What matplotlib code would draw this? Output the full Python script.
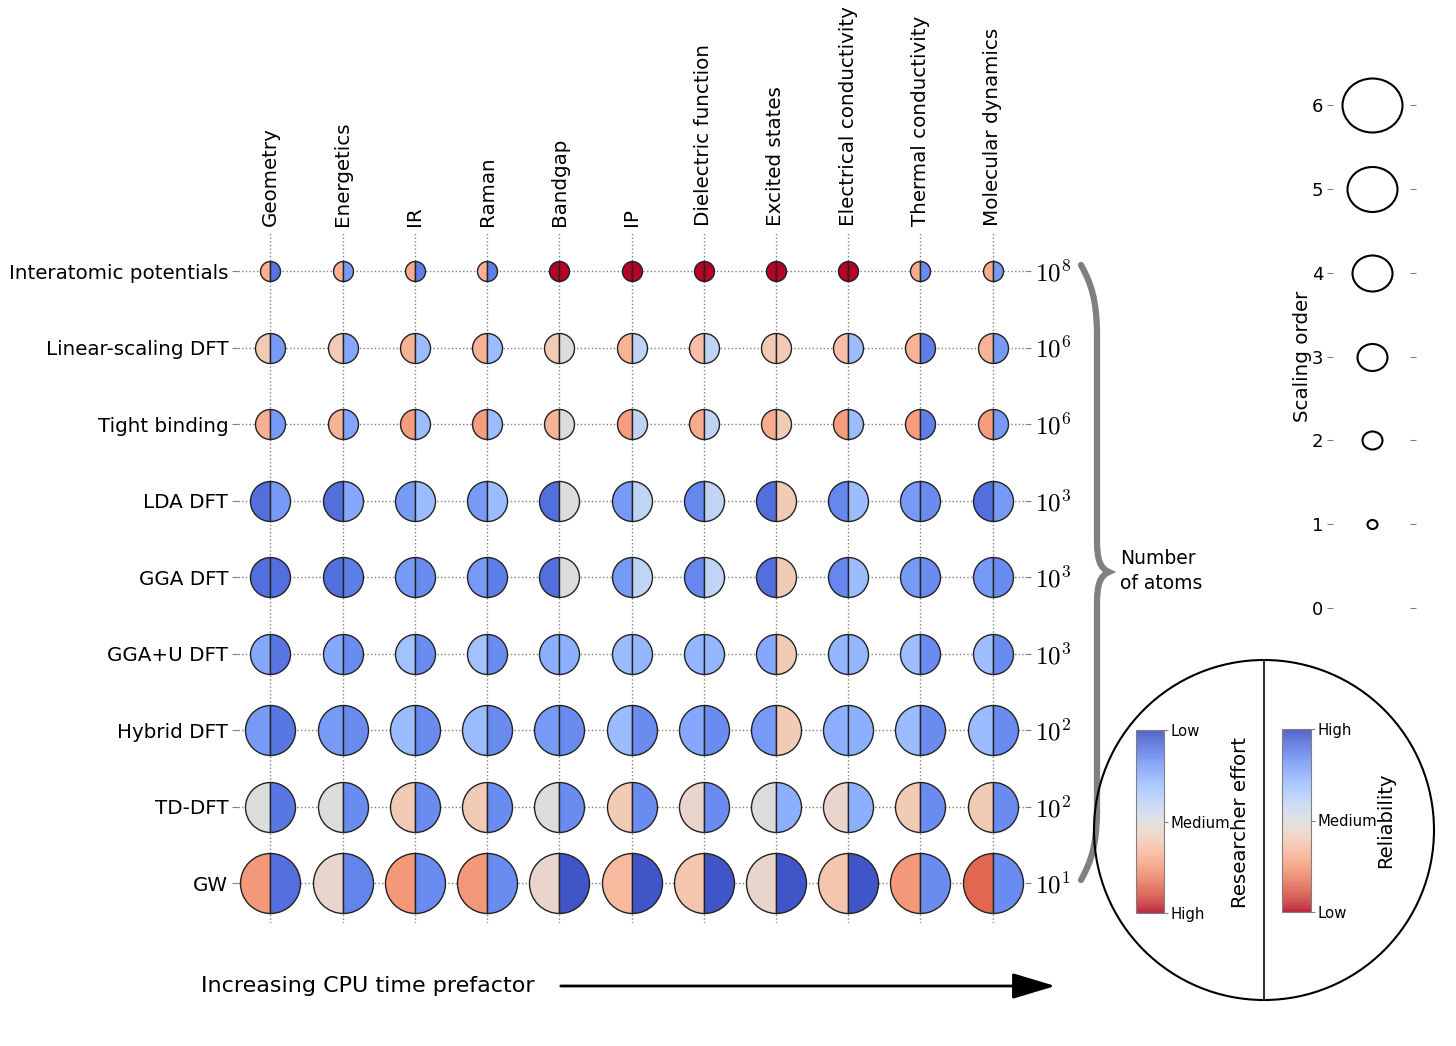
import matplotlib
matplotlib.use("Agg")
import matplotlib.pyplot as plt
from matplotlib.patches import Circle, PathPatch
from matplotlib.path import Path
from matplotlib.cm import ScalarMappable
from matplotlib.colors import Normalize
import numpy as np

plt.rcParams['mathtext.fontset'] = 'cm'

# --- data ---
methods = ['Interatomic potentials', 'Linear-scaling DFT', 'Tight binding', 'LDA DFT',
           'GGA DFT', 'GGA+U DFT', 'Hybrid DFT', 'TD-DFT', 'GW']
atoms = ['$10^8$', '$10^6$', '$10^6$', '$10^3$', '$10^3$', '$10^3$', '$10^2$', '$10^2$', '$10^1$']
properties = ['Geometry', 'Energetics', 'IR', 'Raman', 'Bandgap', 'IP', 'Dielectric function',
              'Excited states', 'Electrical conductivity', 'Thermal conductivity', 'Molecular dynamics']
scaling = [2, 3, 3, 4, 4, 4, 5, 5, 6]

# researcher effort, 0 = low, 1 = high
effort = [
    [0.69, 0.69, 0.70, 0.69, 1.00, 1.00, 1.00, 1.00, 1.00, 0.70, 0.70],
    [0.60, 0.60, 0.68, 0.68, 0.60, 0.68, 0.64, 0.60, 0.64, 0.68, 0.68],
    [0.69, 0.68, 0.74, 0.74, 0.68, 0.74, 0.70, 0.70, 0.74, 0.74, 0.74],
    [0.08, 0.08, 0.19, 0.19, 0.08, 0.19, 0.14, 0.08, 0.14, 0.19, 0.08],
    [0.08, 0.08, 0.19, 0.19, 0.08, 0.19, 0.14, 0.08, 0.14, 0.19, 0.19],
    [0.23, 0.23, 0.31, 0.31, 0.25, 0.29, 0.27, 0.23, 0.27, 0.30, 0.30],
    [0.19, 0.19, 0.29, 0.29, 0.19, 0.29, 0.23, 0.19, 0.25, 0.29, 0.29],
    [0.50, 0.50, 0.60, 0.60, 0.50, 0.60, 0.55, 0.50, 0.55, 0.60, 0.60],
    [0.75, 0.55, 0.75, 0.75, 0.55, 0.66, 0.62, 0.55, 0.62, 0.75, 0.86],
]
# reliability, 0 = low, 1 = high
reliability = [
    [0.91, 0.81, 0.88, 0.88, 0.00, 0.00, 0.00, 0.00, 0.00, 0.85, 0.81],
    [0.81, 0.77, 0.71, 0.71, 0.50, 0.60, 0.60, 0.40, 0.71, 0.88, 0.81],
    [0.81, 0.78, 0.71, 0.71, 0.50, 0.60, 0.60, 0.40, 0.71, 0.88, 0.81],
    [0.81, 0.77, 0.71, 0.71, 0.50, 0.60, 0.60, 0.40, 0.71, 0.85, 0.81],
    [0.92, 0.88, 0.85, 0.88, 0.50, 0.60, 0.60, 0.40, 0.71, 0.85, 0.85],
    [0.90, 0.85, 0.85, 0.85, 0.75, 0.73, 0.73, 0.40, 0.73, 0.85, 0.85],
    [0.90, 0.85, 0.85, 0.85, 0.85, 0.85, 0.85, 0.40, 0.75, 0.85, 0.85],
    [0.90, 0.85, 0.85, 0.85, 0.85, 0.85, 0.85, 0.75, 0.75, 0.85, 0.85],
    [0.92, 0.87, 0.85, 0.85, 0.98, 0.98, 0.98, 0.98, 0.98, 0.85, 0.85],
]
legend_orders = [0, 1, 2, 3, 4, 5, 6]

cmap = plt.get_cmap('coolwarm')
W, H = 1456, 1046
fig = plt.figure(figsize=(W / 100, H / 100), dpi=100)

# overlay in pixel coords for the brace / arrow / legend circle
over = fig.add_axes([0, 0, 1, 1])
over.set_xlim(0, W)
over.set_ylim(H, 0)
over.axis('off')

def msize(order):
    # marker diameter in points (10 px per scaling order)
    return 7.2 * order

# --- main grid ---
ax = fig.add_axes([238 / W, 1 - 923 / H, (1025 - 238) / W, (923 - 232) / H])
for i, m in enumerate(methods):
    for j, p in enumerate(properties):
        ax.plot(j, i, marker='o', linestyle='none', fillstyle='left',
                markerfacecolor=cmap(effort[i][j]),
                markerfacecoloralt=cmap(1 - reliability[i][j]),
                markeredgecolor='#222222', markeredgewidth=1.0,
                markersize=msize(scaling[i]), zorder=3)

ax.set_xlim(-0.45, len(properties) - 0.55)
ax.set_ylim(len(methods) - 0.48, -0.51)
ax.set_xticks(range(len(properties)))
ax.set_xticklabels(properties, rotation=90, fontsize=14.3)
ax.xaxis.tick_top()
ax.tick_params(axis='x', length=0, pad=4)
ax.set_yticks(range(len(methods)))
ax.set_yticklabels(methods, fontsize=14.3)
ax.tick_params(axis='y', length=4, color='gray', pad=3)
ax.grid(True, linestyle=':', color='gray', linewidth=1)
ax.set_axisbelow(True)
for s in ax.spines.values():
    s.set_visible(False)

ax2 = ax.twinx()
ax2.set_ylim(ax.get_ylim())
ax2.set_yticks(range(len(methods)))
ax2.set_yticklabels(atoms, fontsize=18)
ax2.tick_params(axis='y', length=4, color='gray', pad=3)
for s in ax2.spines.values():
    s.set_visible(False)

# brace + "Number of atoms"
verts = [(1081, 265), (1092, 285), (1096, 300), (1097, 330),
         (1097, 540),
         (1097, 560), (1100, 568), (1109, 572),
         (1100, 576), (1097, 584), (1097, 604),
         (1097, 815),
         (1096, 845), (1092, 860), (1081, 880)]
codes = [Path.MOVETO, Path.CURVE4, Path.CURVE4, Path.CURVE4,
         Path.LINETO,
         Path.CURVE4, Path.CURVE4, Path.CURVE4,
         Path.CURVE4, Path.CURVE4, Path.CURVE4,
         Path.LINETO,
         Path.CURVE4, Path.CURVE4, Path.CURVE4]
over.add_patch(PathPatch(Path(verts, codes), fill=False, edgecolor='#808080', lw=4.5,
                         capstyle='round'))
over.text(1120, 571, 'Number\nof atoms', fontsize=13.5, ha='left', va='center', linespacing=1.35)

# arrow
over.text(201, 986, 'Increasing CPU time prefactor', fontsize=16, ha='left', va='center')
over.annotate('', xy=(1058, 986), xytext=(558, 986),
              arrowprops=dict(arrowstyle='-|>,head_length=1.33,head_width=0.4',
                              lw=2, color='black', mutation_scale=20))

# --- scaling order legend ---
uc = Path.unit_circle()
ell = Path(uc.vertices * np.array([1.0, 0.9]), uc.codes)
axs = fig.add_axes([1333 / W, 1 - 650 / H, 77 / W, 587 / H])
for o in legend_orders:
    if o > 0:
        axs.plot(0, o, marker=ell, linestyle='none', markerfacecolor='white',
                 markeredgecolor='black', markeredgewidth=1.5, markersize=msize(o))
axs.set_xlim(-1, 1)
axs.set_ylim(-0.5, 6.5)
axs.set_xticks([])
axs.set_yticks(legend_orders)
axs.set_yticklabels([str(o) for o in legend_orders], fontsize=13)
axs.tick_params(axis='y', left=True, right=True, labelleft=True, length=4, color='gray', pad=3)
axs.set_ylabel('Scaling order', fontsize=14.3, labelpad=0)
for s in axs.spines.values():
    s.set_visible(False)

# --- colour legend inside circle ---
over.add_patch(Circle((1264, 830), 170, fill=False, ec='black', lw=1.5))
over.plot([1264, 1264], [661, 999], color='#333333', lw=1.5)

sm = ScalarMappable(norm=Normalize(0, 1), cmap=plt.get_cmap('coolwarm_r', 64))
cax1 = fig.add_axes([1136 / W, 1 - 913 / H, 28 / W, 183 / H])
cb1 = fig.colorbar(sm, cax=cax1, ticks=[0, 0.5, 1])
cb1.ax.set_yticklabels(['High', 'Medium', 'Low'], fontsize=10.7)
cb1.ax.tick_params(length=3, color='gray', pad=2)
cb1.outline.set_edgecolor('gray')
cb1.solids.set_alpha(0.85)
over.text(1240, 822, 'Researcher effort', rotation=90, fontsize=14.2, ha='center', va='center')

cax2 = fig.add_axes([1282 / W, 1 - 912 / H, 29 / W, 183 / H])
cb2 = fig.colorbar(sm, cax=cax2, ticks=[0, 0.5, 1])
cb2.ax.set_yticklabels(['Low', 'Medium', 'High'], fontsize=10.7)
cb2.ax.tick_params(length=3, color='gray', pad=2)
cb2.outline.set_edgecolor('gray')
cb2.solids.set_alpha(0.85)
over.text(1386, 820, 'Reliability', rotation=90, fontsize=14, ha='center', va='center')

fig.savefig('out.png', dpi=100)
